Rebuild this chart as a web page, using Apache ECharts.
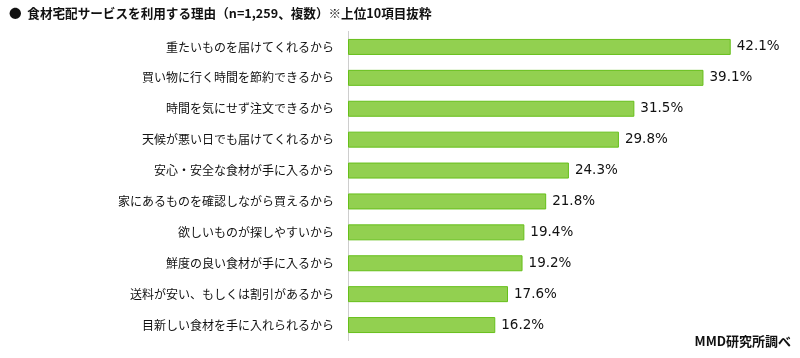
<!DOCTYPE html>
<html><head><meta charset="utf-8">
<script src="https://cdn.jsdelivr.net/npm/echarts@6/dist/echarts.min.js"></script>
<style>html,body{margin:0;padding:0;background:#fff}#c{width:800px;height:358px}</style>
</head><body><div id="c"></div>
<script>
const categories = [
  "重たいものを届けてくれるから",
  "買い物に行く時間を節約できるから",
  "時間を気にせず注文できるから",
  "天候が悪い日でも届けてくれるから",
  "安心・安全な食材が手に入るから",
  "家にあるものを確認しながら買えるから",
  "欲しいものが探しやすいから",
  "鮮度の良い食材が手に入るから",
  "送料が安い、もしくは割引があるから",
  "目新しい食材を手に入れられるから"
];
const values = [42.1, 39.1, 31.5, 29.8, 24.3, 21.8, 19.4, 19.2, 17.6, 16.2];
const titleText = "●  食材宅配サービスを利用する理由（n=1,259、複数）※上位10項目抜粋";
const sourceText = "MMD研究所調べ";

const chart = echarts.init(document.getElementById('c'), null, {renderer:'canvas'});
chart.setOption({
  animation: false,
  backgroundColor: '#ffffff',
  graphic: [
    {type:'text', left: 9, top: 7, style:{text: titleText, font:'bold 12.6px "Noto Sans CJK JP"', fill:'#111'}},
    {type:'text', right: 9, top: 335, style:{text: sourceText, font:'bold 13px "Noto Sans CJK JP"', fill:'#111'}}
  ],
  grid: {left: 348, top: 31.5, width: 400, height: 309, containLabel: false},
  xAxis: {type:'value', min:0, max:44, show:false},
  yAxis: {
    type:'category', data: categories, inverse: true,
    axisLine:{show:true, lineStyle:{color:'#c8c8c8', type:'dotted', width:1}},
    axisTick:{show:false},
    axisLabel:{margin:14, fontSize:12, color:'#111', fontFamily:'"Noto Sans CJK JP"'}
  },
  series: [{
    type:'bar', data: values, barWidth: 16,
    itemStyle:{color:'#92d050', borderColor:'#66bf1a', borderWidth:1},
    label:{show:true, position:'right', distance:6, formatter: p => p.value.toFixed(1) + '%', fontSize:13.5, color:'#111', fontFamily:'"DejaVu Sans"'}
  }]
});
</script></body></html>
